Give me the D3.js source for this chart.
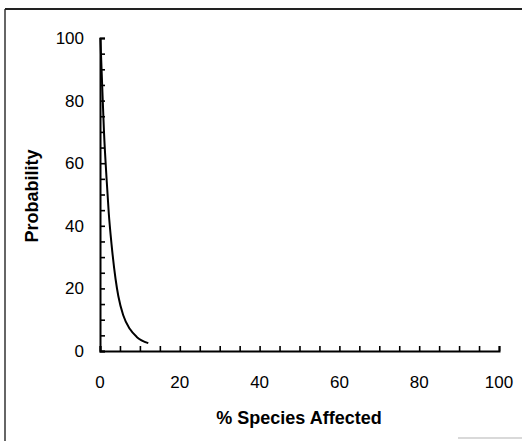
<!DOCTYPE html>
<html><head><meta charset="utf-8">
<script src="https://cdn.jsdelivr.net/npm/d3@7"></script>
<style>body{margin:0;background:#fff}svg{display:block}</style>
</head><body>
<svg id="c" width="522" height="441"></svg>
<script>
const speciesAffected = [0.1, 0.3, 0.6, 1.0, 1.7, 2.2, 2.9, 3.9, 4.6, 5.8, 7.5, 9.2, 12.1];
const probability     = [100, 93, 83, 70, 54, 44, 34, 23, 17.5, 11.5, 7, 4.5, 2.5];
const xTickLabels = [0, 20, 40, 60, 80, 100];
const yTickLabels = [0, 20, 40, 60, 80, 100];
const minorTicks = d3.range(0, 101, 5);

const svg = d3.select("#c");
const font = "Liberation Sans, Arial, Helvetica, sans-serif";
const x = d3.scaleLinear().domain([0, 100]).range([100, 499]);
const y = d3.scaleLinear().domain([0, 100]).range([351, 38]);

// frame
svg.append("line").attr("x1",5).attr("x2",5).attr("y1",9).attr("y2",441).attr("stroke","#333").attr("stroke-width",1.5);
svg.append("line").attr("x1",5).attr("x2",522).attr("y1",9).attr("y2",9).attr("stroke","#222").attr("stroke-width",2);
svg.append("line").attr("x1",458).attr("x2",522).attr("y1",438).attr("y2",438).attr("stroke","#ccc").attr("stroke-width",1.5);

// axes (inward ticks)
const xAxis = svg.append("g").attr("transform",`translate(0,${y(0)})`)
  .call(d3.axisTop(x).tickValues(minorTicks).tickSize(5).tickFormat(""));
const yAxis = svg.append("g").attr("transform",`translate(${x(0)},0)`)
  .call(d3.axisRight(y).tickValues(minorTicks).tickSize(5).tickFormat(""));
[xAxis, yAxis].forEach(g => {
  g.select(".domain").attr("stroke","#000").attr("stroke-width",2);
  g.selectAll(".tick line").attr("stroke","#000").attr("stroke-width",1.6);
});

// tick labels
svg.append("g").selectAll("text").data(xTickLabels).join("text")
  .attr("x", d => x(d)).attr("y", 388).attr("text-anchor","middle")
  .attr("font-family", font).attr("font-size", 17).text(d => d);
svg.append("g").selectAll("text").data(yTickLabels).join("text")
  .attr("x", 84).attr("y", d => y(d) + 6).attr("text-anchor","end")
  .attr("font-family", font).attr("font-size", 17).text(d => d);

// axis titles
svg.append("text").attr("x", 299).attr("y", 424).attr("text-anchor","middle")
  .attr("font-family", font).attr("font-weight","bold").attr("font-size", 18)
  .text("% Species Affected");
svg.append("text").attr("transform","translate(38,196) rotate(-90)").attr("text-anchor","middle")
  .attr("font-family", font).attr("font-weight","bold").attr("font-size", 18)
  .text("Probability");

// curve
const pts = speciesAffected.map((d,i) => [d, probability[i]]);
svg.append("path").datum(pts)
  .attr("d", d3.line().x(d => x(d[0])).y(d => y(d[1])).curve(d3.curveMonotoneX))
  .attr("fill","none").attr("stroke","#000").attr("stroke-width",2);
</script>
</body></html>
